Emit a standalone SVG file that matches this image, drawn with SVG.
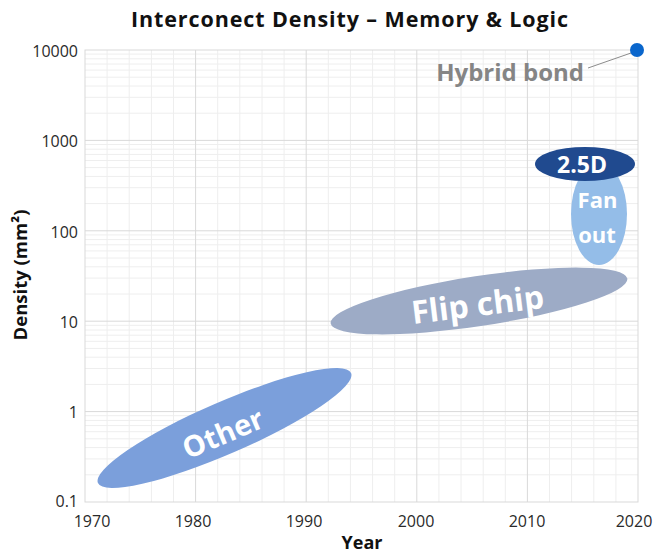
<svg xmlns="http://www.w3.org/2000/svg" width="656" height="554" viewBox="0 0 656 554">
  <style>
    .tick { font-family: "Open Sans", "Liberation Sans", sans-serif; font-size: 16px; fill: #2a2a2a; }
    .axis-title { font-family: "Open Sans", "Liberation Sans", sans-serif; font-weight: bold; fill: #111; }
    .blob-label { font-family: "Open Sans", "Liberation Sans", sans-serif; font-weight: bold; fill: #fff; text-anchor: middle; }
    .grid-major { stroke: #d9d9d9; stroke-width: 1; fill: none; }
    .grid-minor { stroke: #eeeeee; stroke-width: 1; fill: none; }
  </style>

  <rect width="656" height="554" fill="#ffffff"/>

  <!-- title -->
  <text x="350" y="27" text-anchor="middle" font-family="'Open Sans', 'Liberation Sans', sans-serif" font-size="21.5" font-weight="bold" letter-spacing="0.9" fill="#111">Interconect Density – Memory &amp; Logic</text>

  <!-- grid: log-scale minor lines, then decades / decades-of-years -->
  <g id="grid">
    <path class="grid-minor" d="
      M85 113.2H638 M85 97.3H638 M85 86H638 M85 77.2H638 M85 70.1H638 M85 64H638 M85 58.8H638 M85 54.1H638
      M85 203.6H638 M85 187.7H638 M85 176.4H638 M85 167.6H638 M85 160.5H638 M85 154.4H638 M85 149.2H638 M85 144.5H638
      M85 294H638 M85 278.1H638 M85 266.8H638 M85 258H638 M85 250.9H638 M85 244.8H638 M85 239.6H638 M85 234.9H638
      M85 384.4H638 M85 368.5H638 M85 357.2H638 M85 348.4H638 M85 341.3H638 M85 335.2H638 M85 330H638 M85 325.3H638
      M85 474.8H638 M85 458.9H638 M85 447.6H638 M85 438.8H638 M85 431.7H638 M85 425.6H638 M85 420.4H638 M85 415.7H638
      M107.1 50V502 M129.2 50V502 M151.4 50V502 M173.5 50V502
      M217.7 50V502 M239.8 50V502 M262 50V502 M284.1 50V502
      M328.3 50V502 M350.4 50V502 M372.6 50V502 M394.7 50V502
      M438.9 50V502 M461 50V502 M483.2 50V502 M505.3 50V502
      M549.5 50V502 M571.6 50V502 M593.8 50V502 M615.9 50V502"/>
    <path class="grid-major" d="
      M85 140.4H638 M85 230.8H638 M85 321.2H638 M85 411.6H638
      M195.6 50V502 M306.2 50V502 M416.8 50V502 M527.4 50V502"/>
    <rect class="grid-major" x="85" y="50" width="553" height="452"/>
  </g>

  <!-- y axis ticks -->
  <g id="y-axis">
    <text class="tick" x="78" y="57" text-anchor="end">10000</text>
    <text class="tick" x="78" y="147" text-anchor="end">1000</text>
    <text class="tick" x="78" y="238" text-anchor="end">100</text>
    <text class="tick" x="78" y="328" text-anchor="end">10</text>
    <text class="tick" x="78" y="418" text-anchor="end">1</text>
    <text class="tick" x="78" y="507" text-anchor="end">0.1</text>
    <text class="axis-title" font-size="18.5" transform="translate(27 275) rotate(-90)" text-anchor="middle">Density (mm²)</text>
  </g>

  <!-- x axis ticks -->
  <g id="x-axis">
    <text class="tick" x="92" y="527" text-anchor="middle">1970</text>
    <text class="tick" x="193" y="527" text-anchor="middle">1980</text>
    <text class="tick" x="304" y="527" text-anchor="middle">1990</text>
    <text class="tick" x="416" y="527" text-anchor="middle">2000</text>
    <text class="tick" x="527" y="527" text-anchor="middle">2010</text>
    <text class="tick" x="634" y="527" text-anchor="middle">2020</text>
    <text class="axis-title" font-size="18" x="362" y="549" text-anchor="middle">Year</text>
  </g>

  <!-- technology regions -->
  <g id="other">
    <ellipse cx="224.5" cy="428" rx="138" ry="26" transform="rotate(-23.5 224.5 428)" fill="#7b9fdb"/>
    <text class="blob-label" font-size="29" transform="translate(227 443) rotate(-23)">Other</text>
  </g>

  <g id="flip-chip">
    <ellipse cx="479" cy="301" rx="150" ry="25" transform="rotate(-8.6 479 301)" fill="#9dabc6"/>
    <text class="blob-label" font-size="32" transform="translate(479 316) rotate(-7)">Flip chip</text>
  </g>

  <g id="fan-out">
    <ellipse cx="599" cy="214" rx="28" ry="51" fill="#94bde8"/>
    <text class="blob-label" font-size="22" x="597.5" y="208">Fan</text>
    <text class="blob-label" font-size="22" x="597" y="243">out</text>
  </g>

  <g id="two-point-five-d">
    <ellipse cx="585" cy="164" rx="50" ry="17" fill="#204a8f"/>
    <text class="blob-label" font-size="23" x="582" y="173">2.5D</text>
  </g>

  <!-- hybrid bond marker and its leader -->
  <g id="connectors">
    <line x1="588" y1="68" x2="631" y2="53" stroke="#8c8c8c" stroke-width="1"/>
  </g>
  <g id="hybrid-bond">
    <circle cx="637" cy="50" r="7" fill="#0a66cc"/>
    <text x="584" y="81" text-anchor="end" font-family="'Open Sans', 'Liberation Sans', sans-serif" font-size="24" font-weight="bold" fill="#858585">Hybrid bond</text>
  </g>
</svg>
